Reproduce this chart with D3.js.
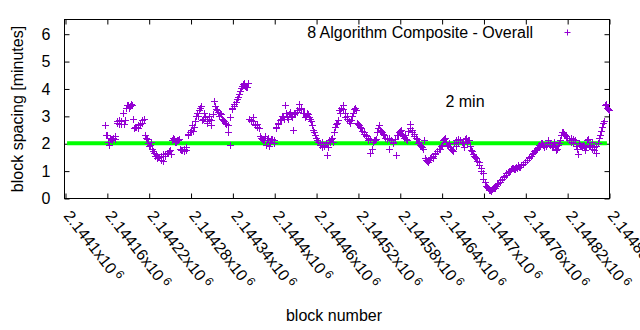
<!DOCTYPE html>
<html>
<head>
<meta charset="utf-8">
<script src="https://cdn.jsdelivr.net/npm/d3@7"></script>
<style>
  body { margin: 0; background: #fff; }
  svg { display: block; }
  text { font-family: "Liberation Sans", Arial, sans-serif; fill: #000; }
</style>
</head>
<body>
<svg id="chart" width="640" height="330"></svg>
<script>
// ---- data ----
const blocksA = d3.range(2144157, 2144881, 3);
const spacingA = [
  2.68, 2.3, 1.95, 2.15, 2.2, 2.15, 2.75, 2.7, 2.8, 2.72,
  3.3, 3.4, 3.35, 3.38, 2.55, 2.6, 2.65, 2.7, 2.85, 2.3,
  2.15, 1.9, 2.05, 1.7, 1.55, 1.45, 1.5, 1.55, 1.35, 1.6,
  1.65, 1.75, 2.1, 2.15, 2.05, 2.1, 1.8, 1.75, 1.7, 1.85,
  2.35, 2.5, 2.45, 2.8, 3.1, 3.2, 3.35, 2.9, 2.95, 2.75,
  3.0, 2.65, 3.55, 3.25, 3.15, 3.1, 2.9, 2.8, 2.7, 2.4,
  1.95, 3.3, 3.45, 3.6, 3.8, 4.0, 4.15, 4.1, 4.05, 2.9,
  2.85, 2.8, 2.65, 2.7, 2.25, 2.15, 2.1, 1.95, 2.2, 2.05,
  2.15, 2.0, 2.6, 2.75, 2.9, 3.0, 3.4, 2.95, 3.05, 3.0,
  2.5, 3.1, 3.2, 3.45, 3.25, 3.1, 3.0, 3.05, 2.9, 2.65,
  2.4, 2.2, 2.05, 1.95, 1.85, 1.95, 1.57, 2.1, 2.15, 2.05,
  2.6, 2.75, 3.2, 3.3, 3.25, 2.95, 2.9, 2.75, 3.0, 3.25,
  3.2, 2.7, 2.6, 2.45, 2.35, 2.25, 2.1, 1.65, 2.05, 2.1,
  2.4, 2.65, 2.45, 2.35, 2.2, 2.15, 1.8, 2.1, 2.05, 1.57,
  2.3, 2.45, 2.35, 2.2, 2.15, 2.45, 2.7, 2.4, 2.25, 2.15,
  2.05, 1.9, 1.8, 1.45, 1.35, 1.4, 1.5, 1.55, 1.65, 1.7,
  1.8, 1.95, 2.15, 2.05, 1.9, 1.85, 1.75, 2.0, 2.1, 2.05,
  2.1, 2.0, 2.15, 2.05, 2.1, 1.75, 1.6, 1.5, 1.35, 1.2,
  1.0, 0.7, 0.45, 0.35, 0.3, 0.32, 0.4, 0.45, 0.55, 0.65,
  0.7, 0.8, 0.9, 1.0, 1.05, 1.1, 1.05, 1.1, 1.15, 1.2,
  1.25, 1.3, 1.4, 1.5, 1.6, 1.7, 1.75, 1.85, 1.9, 2.0,
  1.85, 1.95, 2.1, 2.0, 1.9, 1.95, 1.8, 2.0, 2.3, 2.4,
  2.3, 2.2, 2.1, 2.05, 2.15, 1.9, 1.6, 1.95, 1.85, 1.9,
  1.85, 2.15, 1.95, 1.8, 1.85, 1.65, 2.2, 2.45, 2.75, 3.4,
  3.3, 3.2
];
const blocksB = d3.range(2144159, 2144880, 3);
const spacingB = [
  2.3, 2.05, 2.2, 2.1, 2.25, 2.8, 2.85, 2.7, 3.1, 2.85,
  3.4, 3.3, 3.45, 2.9, 2.6, 2.55, 2.7, 2.75, 2.9, 2.2,
  2.0, 1.95, 1.8, 1.65, 1.6, 1.5, 1.4, 1.6, 1.55, 1.65,
  1.7, 1.6, 2.2, 2.05, 2.1, 2.15, 1.75, 1.8, 1.75, 2.3,
  2.4, 2.65, 2.6, 3.0, 3.0, 3.3, 2.85, 3.1, 2.8, 2.9,
  2.85, 3.05, 3.35, 3.2, 3.0, 3.05, 2.85, 2.75, 2.65, 2.95,
  3.25, 3.35, 3.5, 3.7, 3.9, 4.1, 4.2, 4.05, 4.2, 2.8,
  2.95, 2.7, 2.6, 2.55, 2.2, 2.1, 2.25, 2.1, 1.9, 2.15,
  2.1, 2.55, 2.7, 2.85, 3.0, 2.9, 3.1, 2.9, 3.15, 2.95,
  3.05, 3.15, 3.3, 3.3, 3.1, 2.95, 3.1, 2.95, 2.8, 2.5,
  2.3, 2.1, 2.0, 2.05, 1.9, 2.0, 1.85, 2.05, 2.2, 2.4,
  2.7, 2.85, 3.1, 3.4, 3.1, 3.0, 2.8, 2.85, 3.1, 3.3,
  2.75, 2.65, 2.55, 2.4, 2.3, 2.2, 2.15, 1.8, 2.1, 2.15,
  2.55, 2.5, 2.4, 2.3, 2.15, 2.2, 2.1, 2.0, 2.15, 2.3,
  2.4, 2.5, 2.25, 2.3, 2.1, 2.55, 2.5, 2.35, 2.2, 2.0,
  1.95, 1.85, 2.1, 1.4, 1.3, 1.45, 1.45, 1.6, 1.7, 1.8,
  1.9, 2.1, 2.2, 1.95, 2.0, 1.8, 1.7, 1.9, 2.15, 2.1,
  2.05, 1.85, 2.2, 2.1, 1.9, 1.7, 1.55, 1.45, 1.3, 1.1,
  0.9, 0.6, 0.4, 0.3, 0.25, 0.35, 0.35, 0.5, 0.6, 0.7,
  0.75, 0.85, 0.95, 1.0, 1.1, 1.05, 1.15, 1.2, 1.15, 1.25,
  1.3, 1.4, 1.45, 1.55, 1.65, 1.75, 1.8, 1.95, 2.0, 1.95,
  1.9, 2.05, 1.95, 1.85, 2.05, 1.75, 1.95, 2.1, 2.4, 2.35,
  2.25, 2.1, 2.2, 2.0, 2.1, 1.8, 2.0, 1.9, 1.95, 1.75,
  2.1, 1.9, 2.05, 1.75, 1.9, 2.0, 2.3, 2.6, 2.8, 3.45,
  3.25
];
const targetLine = [{block: 2144103, value: 2}, {block: 2144877, value: 2}];
const xTicks = [2144100, 2144160, 2144220, 2144280, 2144340, 2144400, 2144460,
                2144520, 2144580, 2144640, 2144700, 2144760, 2144820, 2144880];
const xTickLabels = ["2.1441", "2.14416", "2.14422", "2.14428", "2.14434", "2.1444", "2.14446",
                     "2.14452", "2.14458", "2.14464", "2.1447", "2.14476", "2.14482", "2.14488"];
const yTicks = [0, 1, 2, 3, 4, 5, 6];
const seriesName = "8 Algorithm Composite - Overall";
const annotation = "2 min";

const points = blocksA.map((b, i) => ({block: b, value: spacingA[i]}))
  .concat(blocksB.map((b, i) => ({block: b, value: spacingB[i]})))
  .sort((a, b) => a.block - b.block);

// ---- layout ----
const svg = d3.select("#chart");
const L = 65, R = 609, T = 20, B = 198;
const x = d3.scaleLinear().domain([2144100, 2144880]).range([L, R]);
const y = d3.scaleLinear().domain([0, 6.5]).range([B, T]);
const purple = "#9400d3";

svg.append("rect").attr("width", 640).attr("height", 330).attr("fill", "#fff");

const gx = svg.append("g").attr("transform", `translate(0.5,${B + 0.5})`)
  .call(d3.axisBottom(x).tickValues(xTicks).tickSizeInner(-5).tickSizeOuter(0).tickFormat(""));
const gxt = svg.append("g").attr("transform", `translate(0.5,${T - 0.5})`)
  .call(d3.axisTop(x).tickValues(xTicks).tickSizeInner(-5).tickSizeOuter(0).tickFormat(""));
const gy = svg.append("g").attr("transform", `translate(${L - 0.5},0.5)`)
  .call(d3.axisLeft(y).tickValues(yTicks).tickSizeInner(-5).tickSizeOuter(0).tickPadding(14).tickFormat(d3.format("d")));
const gyr = svg.append("g").attr("transform", `translate(${R + 0.5},0.5)`)
  .call(d3.axisRight(y).tickValues(yTicks).tickSizeInner(-5).tickSizeOuter(0).tickFormat(""));
[gx, gxt, gy, gyr].forEach(g => {
  g.select(".domain").remove();
  g.selectAll("line").attr("stroke", "#000");
});
gy.selectAll("text").attr("font-size", 16).attr("font-family", "Liberation Sans, Arial, sans-serif")
  .attr("fill", "#000");

svg.append("rect").attr("x", L - 0.5).attr("y", T - 0.5).attr("width", R - L + 1).attr("height", B - T + 1)
  .attr("fill", "none").attr("stroke", "#000").attr("stroke-width", 1);

// rotated x labels
const xl = svg.append("g").selectAll("text").data(xTicks).join("text")
  .attr("transform", d => `translate(${x(d) - 2},216) rotate(52)`)
  .attr("font-size", 16)
  .attr("text-anchor", "start");
xl.append("tspan").text((d, i) => xTickLabels[i] + "x10");
xl.append("tspan").attr("dx", 3).attr("dy", -5).attr("font-size", 12).text("6");

// target line
svg.append("path")
  .attr("d", d3.line().x(d => x(d.block)).y(d => y(d.value))(targetLine))
  .attr("stroke", "#00ff00").attr("stroke-width", 4).attr("fill", "none");

// points
const plus = "M-3.5,0H3.5M0,-3.5V3.5";
svg.append("g").selectAll("path").data(points).join("path")
  .attr("transform", d => `translate(${Math.round(x(d.block)) + 0.5},${Math.round(y(d.value)) + 0.5})`)
  .attr("d", plus).attr("stroke", purple).attr("stroke-width", 1).attr("fill", "none");

// legend
svg.append("text").attr("x", 533).attr("y", 38).attr("text-anchor", "end").attr("font-size", 16).text(seriesName);
svg.append("path").attr("transform", "translate(567.5,32.5)").attr("d", "M-3,0H3M0,-3V3")
  .attr("stroke", purple).attr("stroke-width", 1);

svg.append("text").attr("x", 465).attr("y", 107).attr("text-anchor", "middle").attr("font-size", 16).text(annotation);

svg.append("text").attr("transform", "translate(23,109) rotate(-90)").attr("text-anchor", "middle")
  .attr("font-size", 16).text("block spacing [minutes]");
svg.append("text").attr("x", 334).attr("y", 321).attr("text-anchor", "middle")
  .attr("font-size", 16).text("block number");
</script>
</body>
</html>
